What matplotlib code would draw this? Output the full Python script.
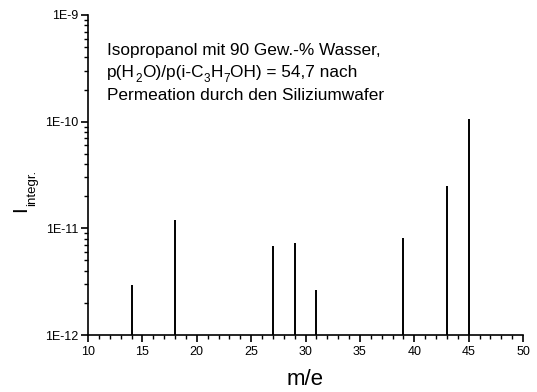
import matplotlib
matplotlib.use("Agg")
import matplotlib.pyplot as plt
from matplotlib.ticker import LogLocator, MultipleLocator, NullFormatter, FixedFormatter, FixedLocator

plt.rcParams['font.family'] = ['Liberation Sans', 'DejaVu Sans']

mass = [14, 18, 27, 29, 31, 39, 43, 45]
intensity = [2.93e-12, 1.2e-11, 6.9e-12, 7.35e-12, 2.63e-12, 8.06e-12, 2.47e-11, 1.06e-10]
ytick_vals = [1e-12, 1e-11, 1e-10, 1e-9]
ytick_labels = ["1E-12", "1E-11", "1E-10", "1E-9"]
xtick_vals = [10, 15, 20, 25, 30, 35, 40, 45, 50]

W, H = 537, 392
fig = plt.figure(figsize=(W/100, H/100), dpi=100)
ax = fig.add_axes([88/W, 1-335/H, (523-88)/W, (335-15)/H])

ax.vlines(mass, 1e-12, intensity, colors='black', linewidth=1.4)
ax.set_yscale('log')
ax.set_xlim(10, 50)
ax.set_ylim(1e-12, 1e-9)

ax.yaxis.set_major_locator(FixedLocator(ytick_vals))
ax.yaxis.set_major_formatter(FixedFormatter(ytick_labels))
ax.yaxis.set_minor_locator(LogLocator(base=10, subs=range(2, 10)))
ax.yaxis.set_minor_formatter(NullFormatter())
ax.set_xticks(xtick_vals)
ax.xaxis.set_minor_locator(MultipleLocator(1))

for s in ['top', 'right']:
    ax.spines[s].set_visible(False)
for s in ['left', 'bottom']:
    ax.spines[s].set_linewidth(1.2)

ax.tick_params(which='major', direction='out', length=5, width=1.2, labelsize=9, pad=2)
ax.tick_params(axis='x', which='major', pad=3)
ax.tick_params(which='minor', direction='out', length=3, width=1.0)

ax.set_xlabel('m/e', fontsize=16, labelpad=7.5)

# y label: "I" with subscript "integr."
fig.text(21/W, 1-209/H, 'I', fontsize=15, rotation=90, ha='center', va='center')
fig.text(32/W, 1-188/H, 'integr.', fontsize=9.5, rotation=90, ha='center', va='center')

fs = 12.4
x0 = 107/W
fig.text(x0, 1-55/H, "Isopropanol mit 90 Gew.-% Wasser,", fontsize=fs, va='baseline', ha='left')
fig.text(x0, 1-100/H, "Permeation durch den Siliziumwafer", fontsize=fs, va='baseline', ha='left')

# second line with lowered subscripts
pieces = [("p(H", fs, 0), ("2", fs*0.68, -4.5), ("O)/p(i-C", fs, 0), ("3", fs*0.68, -4.5),
          ("H", fs, 0), ("7", fs*0.68, -4.5), ("OH) = 54,7 nach", fs, 0)]
renderer = fig.canvas.get_renderer()
xpix = 107.0
base = H - 77.0
for txt, size, dy in pieces:
    t = fig.text(xpix/W, (base+dy)/H, txt, fontsize=size, va='baseline', ha='left')
    bb = t.get_window_extent(renderer)
    xpix += bb.width + 0.3

fig.savefig('out.png', dpi=100)
